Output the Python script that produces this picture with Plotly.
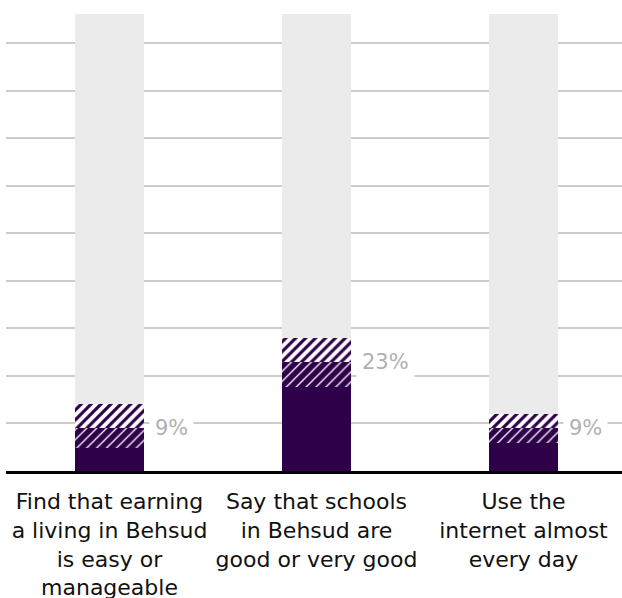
import plotly.graph_objects as go

categories = ["Find that earning<br>a living in Behsud<br>is easy or<br>manageable",
              "Say that schools<br>in Behsud are<br>good or very good",
              "Use the<br>internet almost<br>every day"]
solid_vals = [4.8, 17.7, 5.9]
dense_vals = [4.2, 5.3, 3.1]
light_vals = [5.0, 5.0, 3.0]
label_vals = [9, 23, 9]
label_texts = ["9%", "23%", "9%"]

PURPLE = "#2d0049"
GRAY = "#ebebeb"
FONT = "DejaVu Sans"
xs = [0, 1, 2]
rest_vals = [100 - (a + b + c) for a, b, c in zip(solid_vals, dense_vals, light_vals)]

fig = go.Figure()
fig.add_trace(go.Bar(x=xs, y=solid_vals, marker=dict(color=PURPLE, line=dict(width=0)), width=0.333))
fig.add_trace(go.Bar(x=xs, y=dense_vals, width=0.333,
                     marker=dict(color=PURPLE, line=dict(width=0),
                                 pattern=dict(shape="/", fgcolor="white", bgcolor=PURPLE,
                                              size=7, solidity=0.18, fgopacity=1,
                                              fillmode="replace"))))
fig.add_trace(go.Bar(x=xs, y=light_vals, width=0.333,
                     marker=dict(color="white", line=dict(width=0),
                                 pattern=dict(shape="/", fgcolor=PURPLE, bgcolor="white",
                                              size=7, solidity=0.45, fgopacity=1,
                                              fillmode="replace"))))
fig.add_trace(go.Bar(x=xs, y=rest_vals, width=0.333, marker=dict(color=GRAY, line=dict(width=0))))

for i, (v, t) in enumerate(zip(label_vals, label_texts)):
    fig.add_annotation(x=i + 0.19, y=v, xref="x", yref="y", text=t, showarrow=False,
                       xanchor="left", yanchor="middle", bgcolor="white", borderpad=5,
                       font=dict(family=FONT, size=21, color="#b0b0b0"))

fig.update_layout(
    width=622, height=598, barmode="stack", showlegend=False, bargap=0,
    margin=dict(l=6, r=0, t=14, b=127, autoexpand=False),
    plot_bgcolor="white", paper_bgcolor="white",
    font=dict(family=FONT, size=22, color="#111111"),
    xaxis=dict(range=[-0.5, 2.476], tickvals=xs, ticktext=categories, showgrid=False,
               zeroline=False, showline=True, linecolor="#000000", linewidth=3,
               ticks="", tickangle=0, ticklabelstandoff=9, automargin=False),
    yaxis=dict(range=[0, 96.2], tickvals=[10, 20, 30, 40, 50, 60, 70, 80, 90],
               showticklabels=False, showgrid=True, gridcolor="#cccccc", gridwidth=2,
               zeroline=False, ticks="", automargin=False),
)
fig.write_html("out.html", config={"displayModeBar": False},
               post_script="document.body.style.margin='0';")
